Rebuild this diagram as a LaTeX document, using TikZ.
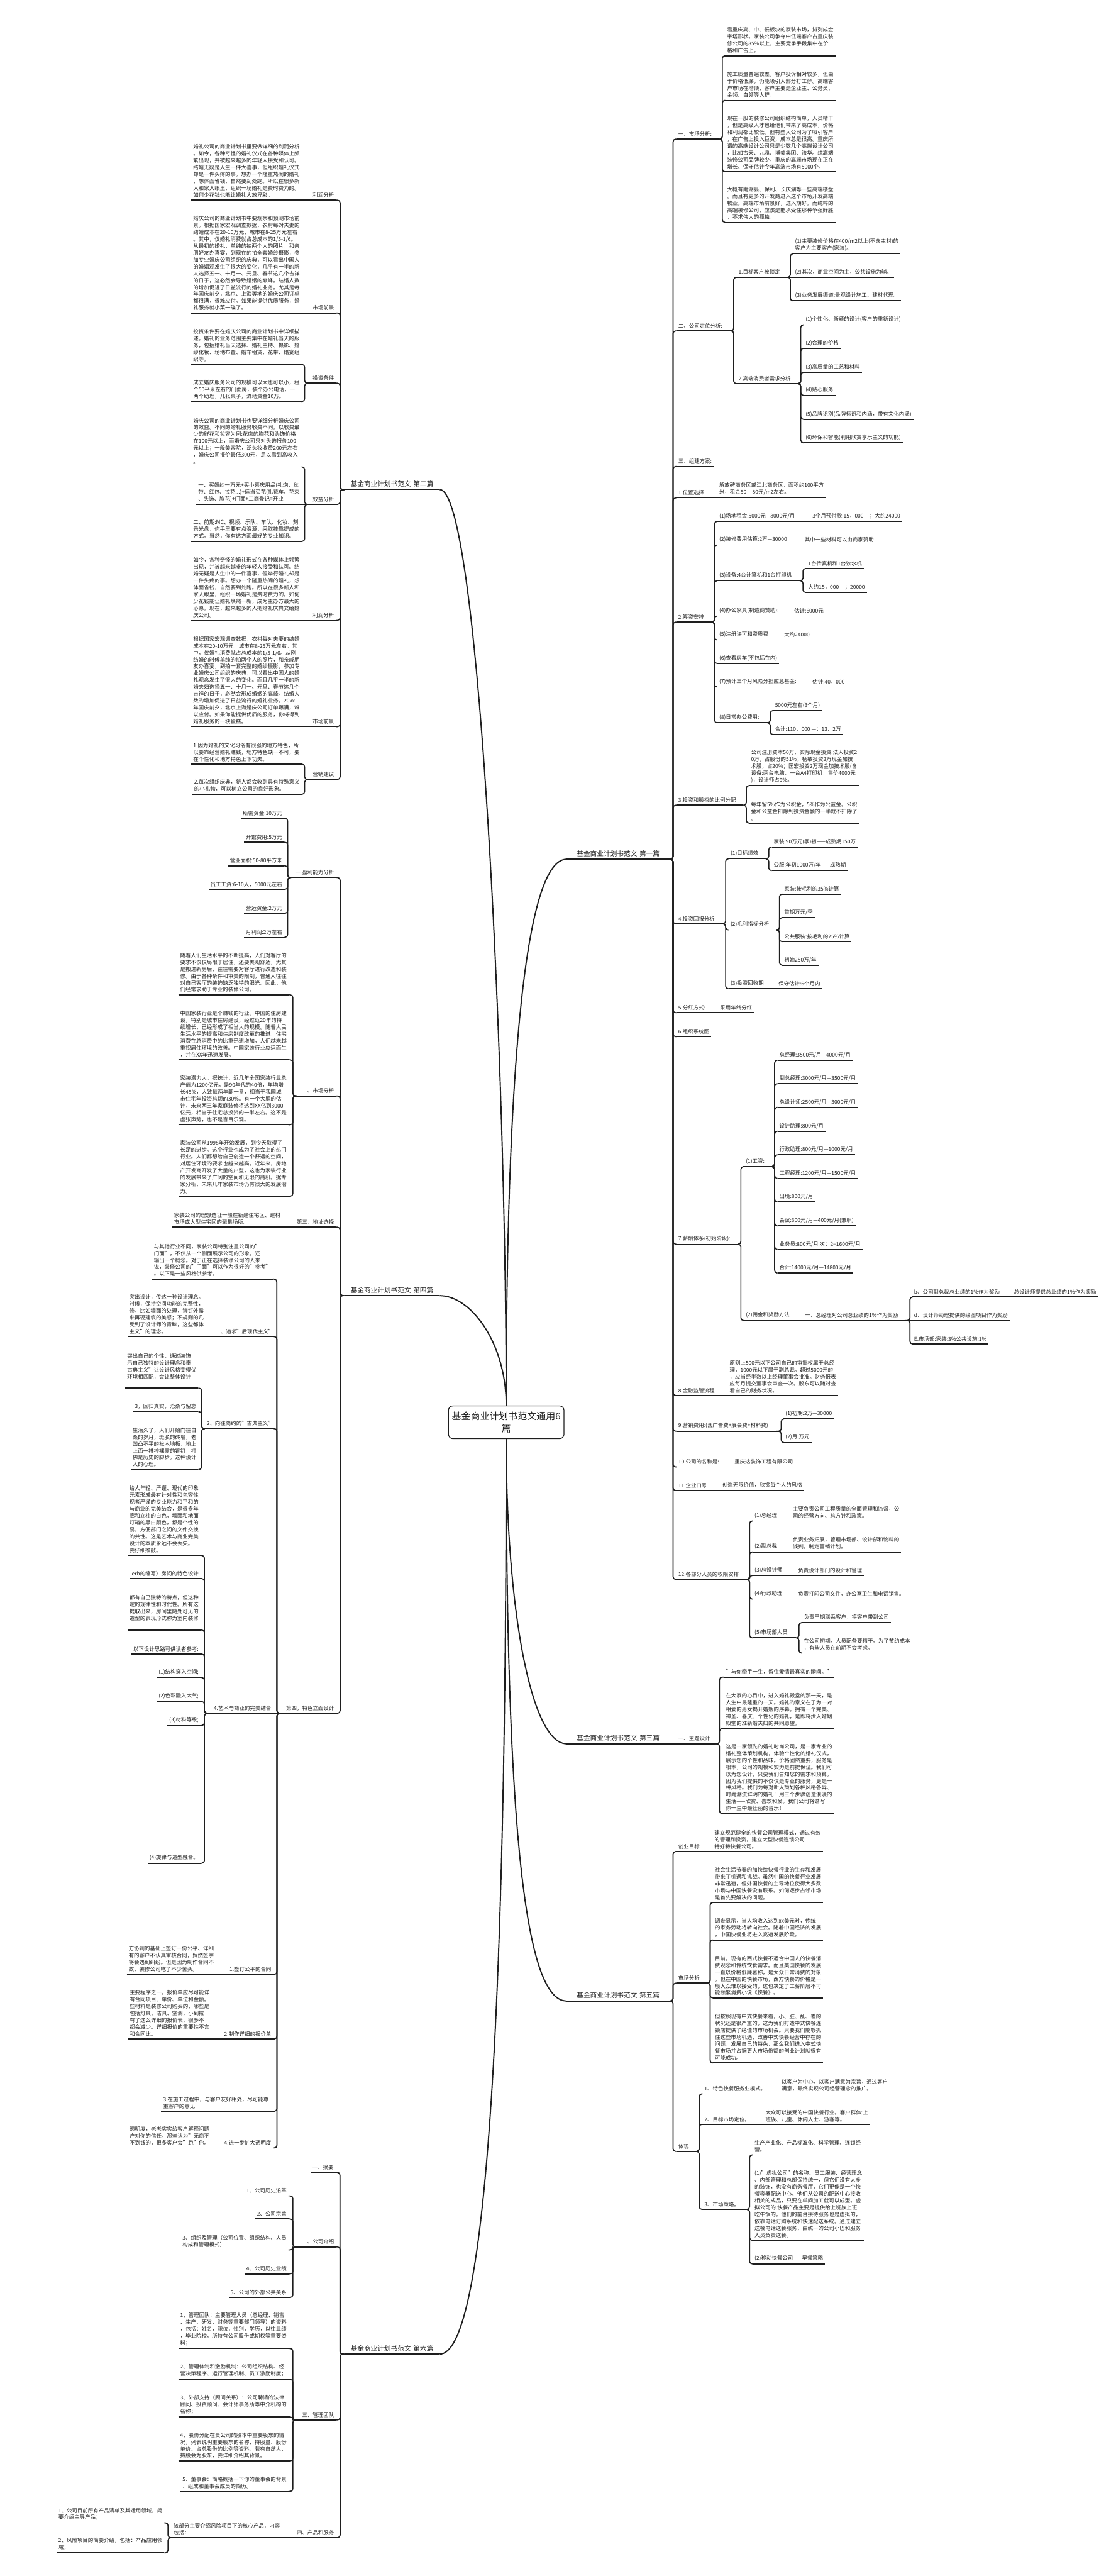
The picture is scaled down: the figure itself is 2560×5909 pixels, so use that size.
\documentclass[tikz,border=0pt]{standalone}
\usepackage{fontspec}
\setmainfont{Noto Sans CJK SC}
\usetikzlibrary{calc}
\definecolor{ink}{HTML}{1E1E1E}
\newcommand\fs{\fontsize{6.1pt}{7.9pt}\selectfont}
\newcommand\fb{\fontsize{7.7pt}{9.5pt}\selectfont}
\newcommand\fc{\fontsize{10.8pt}{14.2pt}\selectfont}
\tikzset{
  nd/.style={font=\fs,text=ink,inner xsep=2pt,inner ysep=2.8pt,anchor=south west,align=left},
  ulk/.style={draw=ink,line width=1.2pt},
  conn/.style={draw=ink,line width=1.2pt,rounded corners=3pt},
  mainc/.style={draw=ink,line width=1.4pt},
}
\newcommand\mkP[6][]{\pgfmathsetmacro\tw{(#4-#3)*0.5-4}\node[nd,text width=\tw pt,#1] (#2) at (#3,#5) {#6};\draw[ulk] (#2.south west)--(#2.south east);}
\newcommand\mkR[5][]{\node[nd,#1] (#2) at (#3,#4) {#5};\draw[ulk] (#2.south west)--(#2.south east);}
\newcommand\mkL[5][]{\node[nd,anchor=south east,align=right,#1] (#2) at (#3,#4) {#5};\draw[ulk] (#2.south west)--(#2.south east);}
\newcommand\cnR[2]{\draw[conn] let \p1=(#1.south east),\p2=(#2.south west) in (\p1)--({(\x1+\x2)/2},\y1)--({(\x1+\x2)/2},\y2)--(\p2);}
\newcommand\cnL[2]{\draw[conn] let \p1=(#1.south west),\p2=(#2.south east) in (\p1)--({(\x1+\x2)/2},\y1)--({(\x1+\x2)/2},\y2)--(\p2);}
\newcommand\stR[2]{\draw[ulk] (#1.south east)--(#2.south west);}
\newcommand\stL[2]{\draw[ulk] (#1.south west)--(#2.south east);}
\begin{document}
\begin{tikzpicture}[x=0.5pt,y=-0.5pt]
\useasboundingbox (0,0) rectangle (2560,5909);
\fill[white] (0,0) rectangle (2560,5909);
% ================= CENTER
\node[draw=ink,line width=0.9pt,rounded corners=5pt,minimum width=132.5pt,minimum height=37.5pt,font=\fc,text=ink,align=center,inner sep=2pt] (C) at (1161.5,3262.5) {基金商业计划书范文通用6\\篇};
% ================= RIGHT: 第一篇
\mkP[font=\fb,align=center]{B1}{1300}{1536}{1971}{基金商业计划书范文 第一篇}
\mkP{b1}{1552}{1650}{319}{一、市场分析:}
\mkR{b1a}{1664}{128}{看重庆高、中、低板块的家装市场，排列成金\\字塔形状。家装公司争夺中低端客户占重庆装\\修公司的85\%以上，主要竞争手段集中在价\\格和广告上。}
\mkR{b1b}{1664}{230}{施工质量普遍较差，客户投诉相对较多，但由\\于价格低廉，仍能吸引大部分打工仔。高端客\\户市场在塔顶，客户主要是企业主、公务员、\\金领、白领等人群。}
\mkR{b1c}{1664}{394}{现在一般的装修公司组织结构简单，人员精干\\，但是高级人才也给他们带来了高成本，价格\\和利润都比较低。但有些大公司为了吸引客户\\，在广告上投入巨资，成本总是很高。重庆所\\谓的高端设计公司只是少数几个高端设计公司\\，比如古天、九鼎、博美集团、法华。纯高端\\装修公司品牌较少。重庆的高端市场现在正在\\增长。保守估计今年高端市场有5000个。}
\mkR{b1d}{1664}{510}{大概有南湖县、保利、长庆湖等一些高端楼盘\\。而且有更多的开发商进入这个市场开发高端\\物业。高端市场前景好，进入期好。而纯粹的\\高端装修公司，应该是能承受住那种争强好胜\\，不求伟大的孤独。}
\mkP{b2}{1552}{1676}{759}{二、公司定位分析:}
\mkP{c1}{1690}{1806}{636}{1.目标客户被锁定}
\mkR{c1a}{1820}{582}{(1)主要装修价格在400/m2以上(不含主材)的\\客户为主要客户(家装)。}
\mkR{c1b}{1820}{636}{(2)其次，商业空间为主，公共设施为辅。}
\mkR{c1c}{1820}{690}{(3)业务发展渠道:景观设计施工、建材代理。}
\mkP{c2}{1690}{1830}{880}{2.高端消费者需求分析}
\mkR{c2a}{1844}{745}{(1)个性化、新颖的设计(客户的重新设计)}
\mkR{c2b}{1844}{799}{(2)合理的价格}
\mkR{c2c}{1844}{854}{(3)高质量的工艺和材料}
\mkR{c2d}{1844}{907}{(4)贴心服务}
\mkR{c2e}{1844}{962}{(5)品牌识别(品牌标识和内涵，带有文化内涵)}
\mkR{c2f}{1844}{1016}{(6)环保和智能(利用欣赏享乐主义的功能)}
\mkR{b3}{1552}{1070}{三、组建方案:}
\mkP{b4}{1552}{1636}{1142}{1.位置选择}
\mkR{b4a}{1646}{1142}{解放碑商务区或江北商务区，面积约100平方\\米，租金50 —80元/m2左右。}
\mkP{b5}{1552}{1632}{1427}{2.筹资安排}
\mkP{d1}{1646}{1848}{1196}{(1)场地租金:5000元—8000元/月}
\mkR{d1a}{1860}{1196}{3个月预付款:15，000 —；大约24000}
\mkP{d2}{1646}{1832}{1250}{(2)装修费用估算:2万—30000}
\mkR{d2a}{1842}{1250}{其中一些材料可以由商家赞助}
\mkP{d3}{1646}{1834}{1332}{(3)设备:4台计算机和1台打印机}
\mkR{d3a}{1850}{1304}{1台传真机和1台饮水机}
\mkR{d3b}{1850}{1359}{大约15，000 —；20000}
\mkP{d4}{1646}{1808}{1413}{(4)办公家具(制造商赞助):}
\mkR{d4a}{1818}{1413}{估计:6000元}
\mkP{d5}{1646}{1782}{1468}{(5)注册许可和资质费}
\mkR{d5a}{1795}{1468}{大约24000}
\mkR{d6}{1646}{1522}{(6)查看房车(不包括在内)}
\mkP{d7}{1646}{1848}{1576}{(7)预计三个月风险分担应急基金:}
\mkR{d7a}{1860}{1576}{估计:40，000}
\mkP{d8}{1646}{1760}{1658}{(8)日常办公费用:}
\mkR{d8a}{1774}{1630}{5000元左右(3个月)}
\mkR{d8b}{1774}{1685}{合计:110，000 —；13．2万}
\mkP{b6}{1552}{1705}{1847}{3.投资和股权的比例分配}
\mkR{b6a}{1719}{1802}{公司注册资本50万，实际现金投资:法人投资2\\0万，占股份的51\%；杨敏投资2万现金加技\\术股，占20\%；匡宏投资2万现金加技术股(含\\设备:两台电脑，一台A4打印机，售价4000元\\)，设计师占9\%。}
\mkR{b6b}{1719}{1888}{每年留5\%作为公积金，5\%作为公益金。公积\\金和公益金扣除到投资金额的一半就不扣除了\\。}
\mkP{b7}{1552}{1657}{2119}{4.投资回报分析}
\mkP{e1}{1672}{1756}{1970}{(1)目标绩效}
\mkR{e1a}{1771}{1943}{家装:90万元(季)初——成熟期150万}
\mkR{e1b}{1771}{1997}{公服:年初1000万/年——成熟期}
\mkP{e2}{1672}{1781}{2133}{(2)毛利指标分析}
\mkR{e2a}{1795}{2051}{家装:按毛利的35\%计算}
\mkR{e2b}{1795}{2105}{首期万元/季}
\mkR{e2c}{1795}{2160}{公共服装:按毛利的25\%计算}
\mkR{e2d}{1795}{2214}{初始250万/年}
\mkP{e3}{1672}{1770}{2268}{(3)投资回收期}
\mkR{e3a}{1782}{2268}{保守估计:6个月内}
\mkP{b8}{1552}{1638}{2323}{5.分红方式:}
\mkR{b8a}{1648}{2323}{采用年终分红}
\mkR{b9}{1552}{2378}{6.组织系统图}
\mkP{b10}{1552}{1692}{2854}{7.薪酬体系(初始阶段):}
\mkP{f1}{1707}{1770}{2676}{(1)工资:}
\mkR{f1a}{1784}{2432}{总经理:3500元/月—4000元/月}
\mkR{f1b}{1784}{2486}{副总经理:3000元/月—3500元/月}
\mkR{f1c}{1784}{2540}{总设计师:2500元/月—3000元/月}
\mkR{f1d}{1784}{2595}{设计助理:800元/月}
\mkR{f1e}{1784}{2649}{行政助理:800元/月—1000元/月}
\mkR{f1f}{1784}{2703}{工程经理:1200元/月—1500元/月}
\mkR{f1g}{1784}{2757}{出境:800元/月}
\mkR{f1h}{1784}{2812}{会议:300元/月—400元/月(兼职)}
\mkR{f1i}{1784}{2866}{业务员:800元/月 次；2=1600元/月}
\mkR{f1j}{1784}{2920}{合计:14000元/月—14800元/月}
\mkP{f2}{1707}{1837}{3029}{(2)佣金和奖励方法}
\mkP{f2a}{1843}{2082}{3029}{一、总经理对公司总业绩的1\%作为奖励}
\mkP{fb}{2093}{2310}{2975}{b、公司副总裁总业绩的1\%作为奖励}
\mkR{fc}{2322}{2975}{总设计师提供总业绩的1\%作为奖励}
\mkR{fd}{2093}{3029}{d、设计师助理提供的绘图项目作为奖励}
\mkR{fE}{2093}{3083}{E.市场部:家装:3\%公共设施:1\%}
\mkP{b11}{1552}{1662}{3201}{8.金融监管流程}
\mkR{b11a}{1670}{3201}{原则上500元以下公司自己的审批权属于总经\\理，1000元以下属于副总裁。超过5000元的\\，应当经半数以上经理董事会批准。财务报表\\应每月提交董事会审查一次。股东可以随时查\\看自己的财务状况。}
\mkP{b12}{1552}{1786}{3283}{9.营销费用:(含广告费+展会费+材料费)}
\mkR{b12a}{1798}{3255}{(1)初期:2万—30000}
\mkR{b12b}{1798}{3309}{(2)月:万元}
\mkP{b13}{1552}{1668}{3365}{10.公司的名称是:}
\mkR{b13a}{1681}{3365}{重庆达装饰工程有限公司}
\mkP{b14}{1552}{1642}{3419}{11.企业口号}
\mkR{b14a}{1653}{3419}{创造无限价值，欣赏每个人的风格}
\mkP{b15}{1552}{1712}{3623}{12.各部分人员的权限安排}
\mkP{g1}{1727}{1808}{3489}{(1)总经理}
\mkR{g1a}{1815}{3489}{主要负责公司工程质量的全面管理和监督，公\\司的经营方向、总方针和政策。}
\mkP{g2}{1727}{1808}{3560}{(2)副总裁}
\mkR{g2a}{1815}{3560}{负责业务拓展，管理市场部、设计部和物料的\\谈判，制定营销计划。}
\mkP{g3}{1727}{1822}{3614}{(3)总设计师}
\mkR{g3a}{1827}{3614}{负责设计部门的设计和管理}
\mkP{g4}{1727}{1822}{3668}{(4)行政助理}
\mkR{g4a}{1827}{3668}{负责打印公司文件，办公室卫生和电话销售。}
\mkP{g5}{1727}{1826}{3757}{(5)市场部人员}
\mkR{g5a}{1840}{3722}{负责早期联系客户，将客户带到公司}
\mkR{g5b}{1840}{3792}{在公司初期，人员配备要精干。为了节约成本\\，有些人员在前期不会考虑。}
% connectors 第一篇
\foreach \c in {b1,b2,b3,b4,b5,b6,b7,b8,b9,b10,b11,b12,b13,b14,b15}{\cnR{B1}{\c}}
\foreach \c in {b1a,b1b,b1c,b1d}{\cnR{b1}{\c}}
\cnR{b2}{c1}\cnR{b2}{c2}
\cnR{c1}{c1a}\stR{c1}{c1b}\cnR{c1}{c1c}
\foreach \c in {c2a,c2b,c2c,c2d,c2e,c2f}{\cnR{c2}{\c}}
\stR{b4}{b4a}
\foreach \c in {d1,d2,d3,d4,d5,d6,d7,d8}{\cnR{b5}{\c}}
\stR{d1}{d1a}\stR{d2}{d2a}\cnR{d3}{d3a}\cnR{d3}{d3b}\stR{d4}{d4a}\stR{d5}{d5a}\stR{d7}{d7a}\cnR{d8}{d8a}\cnR{d8}{d8b}
\cnR{b6}{b6a}\cnR{b6}{b6b}
\cnR{b7}{e1}\cnR{b7}{e2}\cnR{b7}{e3}
\cnR{e1}{e1a}\cnR{e1}{e1b}
\foreach \c in {e2a,e2b,e2c,e2d}{\cnR{e2}{\c}}
\stR{e3}{e3a}\stR{b8}{b8a}
\cnR{b10}{f1}\cnR{b10}{f2}
\foreach \c in {f1a,f1b,f1c,f1d,f1e,f1f,f1g,f1h,f1i,f1j}{\cnR{f1}{\c}}
\stR{f2}{f2a}\cnR{f2a}{fb}\stR{f2a}{fd}\cnR{f2a}{fE}\stR{fb}{fc}
\stR{b11}{b11a}\cnR{b12}{b12a}\cnR{b12}{b12b}\stR{b13}{b13a}\stR{b14}{b14a}
\foreach \c in {g1,g2,g3,g4,g5}{\cnR{b15}{\c}}
\stR{g1}{g1a}\stR{g2}{g2a}\stR{g3}{g3a}\stR{g4}{g4a}\cnR{g5}{g5a}\cnR{g5}{g5b}
% ================= RIGHT: 第三篇
\mkP[font=\fb,align=center]{B3}{1300}{1536}{4000}{基金商业计划书范文 第三篇}
\mkP{t1}{1552}{1640}{4000}{一、主题设计}
\mkR{t1a}{1661}{3847}{"与你牵手一生，留住爱情最真实的瞬间。"}
\mkR{t1b}{1661}{3965}{在大家的心目中，进入婚礼殿堂的那一天，是\\人生中最隆重的一天。婚礼的意义在于为一对\\相爱的男女揭开婚姻的序幕。拥有一个完美、\\神圣、喜庆、个性化的婚礼，是即将步入婚姻\\殿堂的准新婚夫妇的共同愿望。}
\mkR{t1c}{1661}{4160}{这是一家领先的婚礼时尚公司，是一家专业的\\婚礼整体策划机构，体验个性化的婚礼仪式，\\展示您的个性和品味。价格固然重要，服务是\\根本，公司的规模和实力是前提保证。我们可\\以为您设计，只要我们告知您的需求和预算。\\因为我们提供的不仅仅是专业的服务，更是一\\种风格。我们为每对新人策划各种风格各异、\\时尚潮流鲜明的婚礼！用三个步骤创造浪漫的\\生活——欣赏、喜欢和爱。我们公司将谱写\\你一生中最壮丽的音乐！}
\stR{B3}{t1}\cnR{t1}{t1a}\cnR{t1}{t1b}\cnR{t1}{t1c}
% ================= RIGHT: 第五篇
\mkP[font=\fb,align=center]{B5}{1300}{1536}{4590}{基金商业计划书范文 第五篇}
\mkP{h1}{1552}{1622}{4247}{创业目标}
\mkR{h1a}{1635}{4247}{建立规范健全的快餐公司管理模式，通过有效\\的管理和投资，建立大型快餐连锁公司——\\特好特快餐公司。}
\mkP{h2}{1552}{1622}{4549}{市场分析}
\mkR{h2a}{1636}{4364}{社会生活节奏的加快给快餐行业的生存和发展\\带来了机遇和挑战。虽然中国的快餐行业发展\\非常迅速，但外国快餐的主导地位使得大多数\\市场与中国快餐没有联系。如何逐步占领市场\\是首先要解决的问题。}
\mkR{h2b}{1636}{4450}{调查显示，当人均收入达到xx美元时，传统\\的家务劳动将转向社会。随着中国经济的发展\\，中国快餐业将进入高速发展阶段。}
\mkR{h2c}{1636}{4583}{目前，现有的西式快餐不适合中国人的快餐消\\费观念和传统饮食需求。而且美国快餐的发展\\一直以价格低廉著称，是大众日常消费的对象\\。但在中国的快餐市场，西方快餐的价格是一\\般大众难以接受的，这也决定了工薪阶层不可\\能频繁消费小说《快餐》。}
\mkR{h2d}{1636}{4732}{但按照现有中式快餐来看，小、脏、乱、差的\\状况还是很严重的，这为我们打造中式快餐连\\锁店提供了绝佳的市场机会。只要我们能够抓\\住这些市场机遇，改善中式快餐经营中存在的\\问题，发展自己的特色，那么我们进入中式快\\餐市场并占据更大市场份额的创业计划就很有\\可能成功。}
\mkP{h3}{1552}{1596}{4935}{体现}
\mkP{i1}{1612}{1768}{4803}{1、特色快餐服务业模式。}
\mkR{i1a}{1789}{4803}{以客户为中心，以客户满意为宗旨，通过客户\\满意，最终实现公司经营理念的推广。}
\mkP{i2}{1612}{1738}{4873}{2、目标市场定位。}
\mkR{i2a}{1752}{4873}{大众可以接受的中国快餐行业。客户群体:上\\班族、儿童、休闲人士、游客等。}
\mkP{i3}{1612}{1712}{5068}{3、市场策略。}
\mkR{i3a}{1727}{4943}{生产产业化、产品标准化、科学管理、连锁经\\营。}
\mkR{i3b}{1727}{5139}{(1)"虚拟公司"的名称、员工服装、经营理念\\、内部管理和总部保持统一，但它们没有太多\\的装饰，也没有商务餐厅，它们更像是一个快\\餐容器配送中心。他们从公司的配送中心接收\\相关的成品，只要在单间加工就可以成型。虚\\拟公司的.快餐产品主要是提供给上班族上班\\吃午饭的。他们的前台接待服务也是虚拟的，\\依靠电话订购系统和快速配送系统。通过建立\\送餐电话送餐服务，由统一的公司小巴和服务\\人员负责送餐。}
\mkR{i3c}{1727}{5193}{(2)移动快餐公司——早餐策略}
\cnR{B5}{h1}\cnR{B5}{h2}\cnR{B5}{h3}\stR{h1}{h1a}
\foreach \c in {h2a,h2b,h2c,h2d}{\cnR{h2}{\c}}
\cnR{h3}{i1}\cnR{h3}{i2}\cnR{h3}{i3}\stR{i1}{i1a}\stR{i2}{i2a}
\cnR{i3}{i3a}\cnR{i3}{i3b}\cnR{i3}{i3c}
% ================= LEFT: 第二篇
\mkP[font=\fb,align=center]{B2}{790}{1008}{1123}{基金商业计划书范文 第二篇}
\mkP[align=right]{L1}{706}{770}{459}{利润分析}
\mkL[align=left]{L1a}{692}{459}{婚礼公司的商业计划书里要做详细的利润分析\\。如今，各种奇怪的婚礼仪式在各种媒体上频\\繁出现，并被越来越多的年轻人接受和认可。\\结婚无疑是人生一件大喜事，但组织婚礼仪式\\却是一件头疼的事。想办一个隆重热闹的婚礼\\，想体面省钱，自然要到处跑。所以在很多新\\人和家人眼里，组织一场婚礼是费时费力的。\\如何少花钱也能让婚礼大放异彩。}
\mkP[align=right]{L2}{706}{770}{718}{市场前景}
\mkL[align=left]{L2a}{692}{718}{婚庆公司的商业计划书中要观察和预测市场前\\景。根据国家宏观调查数据，农村每对夫妻的\\结婚成本在20-10万元，城市在8-25万元左右\\。其中，仅婚礼消费就占总成本的1/5-1/6。\\从最初的婚礼，单纯的拍两个人的照片，和亲\\朋好友办喜宴，到现在的拍全套婚纱摄影，参\\加专业婚庆公司组织的庆典，可以看出中国人\\的婚姻观发生了很大的变化，几乎有一半的新\\人选择五一、十月一、元旦、春节这几个吉祥\\的日子，这必然会导致婚姻的巅峰。结婚人数\\的增加促进了日益流行的婚礼业务。尤其是每\\年国庆前夕，北京、上海等地的婚庆公司订单\\都很满，很难应付。如果能提供优质服务，婚\\礼服务就小菜一碟了。}
\mkP[align=right]{L3}{706}{770}{879}{投资条件}
\mkL[align=left]{L3a}{692}{836}{投资条件要在婚庆公司的商业计划书中详细描\\述。婚礼的业务范围主要集中在婚礼当天的服\\务，包括婚礼当天选择、婚礼主持、摄影、婚\\纱化妆、场地布置、婚车租赁、花带、婚宴组\\织等。}
\mkL[align=left]{L3b}{692}{921}{成立婚庆服务公司的规模可以大也可以小，租\\个50平米左右的门面房，装个办公电话，一\\两个助理，几张桌子，流动资金10万。}
\mkP[align=right]{L4}{706}{770}{1157}{效益分析}
\mkL[align=left]{L4a}{692}{1071}{婚庆公司的商业计划书也要详细分析婚庆公司\\的效益。不同的婚礼服务收费不同。以收费最\\少的鲜花和妆容为例:花店的胸花和头饰价格\\在100元以上，而婚庆公司只对头饰报价100\\元以上；一般美容院，泛头妆收费200元左右\\，婚庆公司报价最低300元，足以看到高收入\\。}
\mkL[align=left]{L4b}{692}{1157}{一、买婚纱一万元+买小喜庆用品(礼炮、丝\\带、红包、拉花...)+适当买花(扎花车、花束\\、头饰、胸花)+门面+工商登记=开业}
\mkL[align=left]{L4c}{692}{1242}{二、前期:MC、视频、乐队、车队、化妆、刻\\录光盘，你手里要有点资源，采取挂靠提成的\\方式。当然，你有这方面最好的专业知识。}
\mkP[align=right]{L5}{706}{770}{1423}{利润分析}
\mkL[align=left]{L5a}{692}{1423}{如今，各种奇怪的婚礼形式在各种媒体上频繁\\出现，并被越来越多的年轻人接受和认可。结\\婚无疑是人生中的一件喜事，但举行婚礼却是\\一件头疼的事。想办一个隆重热闹的婚礼，想\\体面省钱，自然要到处跑。所以在很多新人和\\家人眼里，组织一场婚礼是费时费力的。如何\\少花钱能让婚礼焕然一新，成为主办方最大的\\心愿。现在，越来越多的人把婚礼庆典交给婚\\庆公司。}
\mkP[align=right]{L6}{706}{770}{1667}{市场前景}
\mkL[align=left]{L6a}{692}{1667}{根据国家宏观调查数据，农村每对夫妻的结婚\\成本在20-10万元，城市在8-25万元左右。其\\中，仅婚礼消费就占总成本的1/5-1/6。从刚\\结婚的时候单纯的拍两个人的照片，和亲戚朋\\友办喜宴，到拍一套完整的婚纱摄影，参加专\\业婚庆公司组织的庆典，可以看出中国人的婚\\礼观念发生了很大的变化。而且几乎一半的新\\婚夫妇选择五一、十月一、元旦、春节这几个\\吉祥的日子，必然会形成婚姻的高峰。结婚人\\数的增加促进了日益流行的婚礼业务。20xx\\年国庆前夕，北京上海婚庆公司订单爆满，难\\以应付。如果你能提供优质的服务，你将得到\\婚礼服务的一块蛋糕。}
\mkP[align=right]{L7}{706}{770}{1788}{营销建议}
\mkL[align=left]{L7a}{692}{1753}{1.因为婚礼的文化习俗有很强的地方特色，所\\以要靠经营婚礼赚钱，地方特色缺一不可，要\\在个性化和地方特色上下功夫。}
\mkL[align=left]{L7b}{692}{1822}{2.每次组织庆典，新人都会收到具有特殊意义\\的小礼物，可以树立公司的良好形象。}
\foreach \c in {L1,L2,L3,L4,L5,L6,L7}{\cnL{B2}{\c}}
\stL{L1}{L1a}\stL{L2}{L2a}\cnL{L3}{L3a}\cnL{L3}{L3b}
\cnL{L4}{L4a}\stL{L4}{L4b}\cnL{L4}{L4c}
\stL{L5}{L5a}\stL{L6}{L6a}\cnL{L7}{L7a}\cnL{L7}{L7b}
% ================= LEFT: 第四篇
\mkP[font=\fb,align=center]{B4}{790}{1008}{2972}{基金商业计划书范文 第四篇}
\mkP[align=right]{F1}{668}{770}{2013}{一.盈利能力分析}
\mkL{F1a}{652}{1877}{所需资金:10万元}
\mkL{F1b}{652}{1932}{开馆费用:5万元}
\mkL{F1c}{652}{1986}{营业面积:50-80平方米}
\mkL{F1d}{652}{2040}{员工工资:6-10人，5000元左右}
\mkL{F1e}{652}{2095}{营运资金:2万元}
\mkL{F1f}{652}{2150}{月利润:2万左右}
\mkP[align=right]{F2}{682}{770}{2514}{二、市场分析}
\mkL[align=left]{F2a}{662}{2282}{随着人们生活水平的不断提高，人们对客厅的\\要求不仅仅局限于居住，还要美观舒适，尤其\\是搬进新房后，往往需要对客厅进行改造和装\\修。由于各种条件和审美的限制，普通人往往\\对自己客厅的装饰缺乏独特的眼光。因此，他\\们经常求助于专业的装修公司。}
\mkL[align=left]{F2b}{662}{2431}{中国家装行业是个赚钱的行业。中国的住房建\\设，特别是城市住房建设，经过近20年的持\\续增长，已经形成了相当大的规模。随着人民\\生活水平的提高和住房制度改革的推进，住宅\\消费在总消费中的比重迅速增加，人们越来越\\重视居住环境的改善。中国家装行业应运而生\\，并在XX年迅速发展。}
\mkL[align=left]{F2c}{662}{2580}{家装潜力大。据统计，近几年全国家装行业总\\产值为1200亿元，是90年代的40倍，年均增\\长45\%，大致每两年翻一番，相当于我国城\\市住宅年投资总额的30\%。有一个大胆的估\\计，未来两三年家庭装修将达到XX亿到3000\\亿元，相当于住宅总投资的一半左右。这不是\\虚张声势，也不是盲目乐观。}
\mkL[align=left]{F2d}{662}{2744}{家装公司从1998年开始发展，到今天取得了\\长足的进步。这个行业也成为了社会上的热门\\行业。人们都想给自己创造一个舒适的空间，\\对居住环境的要求也越来越高。近年来，房地\\产开发商开发了大量的户型，这也为家装行业\\的发展带来了广阔的空间和无限的商机。据专\\家分析，未来几年家装市场仍有很大的发展潜\\力。}
\mkP[align=right]{F3}{656}{770}{2815}{第三，地址选择}
\mkL[align=left]{F3a}{648}{2815}{家装公司的理想选址一般在新建住宅区、建材\\市场或大型住宅区的聚集场所。}
\mkP[align=right]{F4}{644}{770}{3930}{第四，特色立面设计}
\mkL[align=left]{F4a}{626}{2934}{与其他行业不同，家装公司特别注重公司的"\\门面"，不仅从一个侧面展示公司的形象，还\\输出一个概念。对于正在选择装修公司的人来\\说，装修公司的"门面"可以作为很好的"参考"\\。以下是一些风格供参考。}
\mkP[align=right]{F4b}{495}{626}{3066}{1、追求"后现代主义"}
\mkL[align=left]{F4b1}{472}{3066}{突出设计，传达一种设计理念。\\时候，保持空间功能的完整性，\\修。比如墙面的处理，铆钉外露\\来再现建筑的美感；不规则的几\\受到了设计师的青睐，这些都体\\主义"的理念。}
\mkP[align=right]{F4c}{470}{626}{3277}{2、向往简约的"古典主义"}
\mkL[align=left]{F4c1}{455}{3184}{突出自己的个性，通过装饰\\示自己独特的设计理念和奉\\古典主义"让设计风格变得优\\环境相匹配，会让整体设计\\\mbox{}}
\mkL{F4c2}{455}{3238}{3，回归真实，沧桑与留恋}
\mkL[align=left]{F4c3}{455}{3371}{生活久了，人们开始向往自\\桑的岁月，斑驳的砖墙，老\\凹凸不平的松木地板，地上\\上面一排排裸露的铆钉，打\\佛是历史的脚步。这种设计\\人的心理。}
\mkP[align=right]{F4d}{478}{626}{3930}{4.艺术与商业的完美结合}
\mkL[align=left]{F4d1}{460}{3568}{给人年轻、严谨、现代的印象\\元素形成最有针对性和包容性\\现者严谨的专业能力和平和的\\与商业的完美结合，是很多年\\廊和立柱的白色，墙面和地面\\灯箱的黑白颜色，都是个性的\\易，方便部门之间的文件交换\\的共性。这是艺术与商业完美\\设计的本质永远不会丢失。\\要仔细推敲。}
\mkL{F4d2}{460}{3621}{erb的缩写）房间的特色设计}
\mkL[align=left]{F4d3}{460}{3739}{都有自己独特的特点，但这种\\定的规律性和时代性。所有这\\提取出来，房间里随处可见的\\造型的表现形式称为室内装修\\\mbox{}}
\mkL{F4d4}{460}{3794}{以下设计思路可供读者参考:}
\mkL{F4d5}{460}{3848}{(1)结构穿入空间;}
\mkL{F4d6}{460}{3903}{(2)色彩融入大气;}
\mkL{F4d7}{460}{3958}{(3)材料等级;}
\mkL{F4d8}{460}{4274}{(4)旋律与造型融合。}
\mkP[align=right]{F4e}{515}{626}{4529}{1.签订公平的合同}
\mkL[align=left]{F4e1}{495}{4529}{方协调的基础上签订一份公平、详细\\有的客户不认真审核合同，贸然签字\\将会遇到纠纷。但是因为制作合同不\\故，装修公司吃了不少苦头。}
\mkP[align=right]{F4f}{505}{626}{4677}{2.制作详细的报价单}
\mkL[align=left]{F4f1}{485}{4677}{主要程序之一。报价单应尽可能详\\有合同项目、单价、单位和金额。\\些材料是装修公司购买的，哪些是\\包括灯具、洁具、空调，小到拉\\有了这么详细的报价表，很多不\\都会减少。详细报价的重要性不言\\和合同比。}
\mkP{F4g}{370}{626}{4843}{3.在施工过程中，与客户友好相处，尽可能尊\\重客户的意见}
\mkP[align=right]{F4h}{505}{626}{4927}{4.进一步扩大透明度}
\mkL[align=left]{F4h1}{485}{4927}{透明度，老老实实给客户解释问题\\户对你的信任。那些认为"无商不\\不到钱的，很多客户会"跑"你。}
\foreach \c in {F1,F2,F3,F4}{\cnL{B4}{\c}}
\foreach \c in {F1a,F1b,F1c,F1d,F1e,F1f}{\cnL{F1}{\c}}
\foreach \c in {F2a,F2b,F2c,F2d}{\cnL{F2}{\c}}
\stL{F3}{F3a}
\foreach \c in {F4a,F4b,F4c,F4e,F4f,F4g,F4h}{\cnL{F4}{\c}}
\stL{F4}{F4d}
\stL{F4b}{F4b1}
\cnL{F4c}{F4c1}\cnL{F4c}{F4c2}\cnL{F4c}{F4c3}
\foreach \c in {F4d1,F4d2,F4d3,F4d4,F4d5,F4d6,F4d7,F4d8}{\cnL{F4d}{\c}}
\stL{F4e}{F4e1}\stL{F4f}{F4f1}\stL{F4h}{F4h1}
% ================= LEFT: 第六篇
\mkP[font=\fb,align=center]{B6}{790}{1008}{5400}{基金商业计划书范文 第六篇}
\mkL{M1}{770}{4983}{一、摘要}
\mkP[align=right]{M2}{682}{770}{5154}{二、公司介绍}
\mkL{M2a}{662}{5037}{1、公司历史沿革}
\mkL{M2b}{662}{5090}{2、公司宗旨}
\mkL[align=left]{M2c}{662}{5161}{3、组织及管理（公司位置、组织结构、人员\\构成和管理模式）}
\mkL{M2d}{662}{5216}{4、公司历史业绩}
\mkL{M2e}{662}{5270}{5、公司的外部公共关系}
\mkP[align=right]{M3}{682}{770}{5551}{三、管理团队}
\mkL[align=left]{M3a}{662}{5387}{1、管理团队：主要管理人员（总经理、销售\\、生产、研发、财务等重要部门领导）的资料\\，包括：姓名，职位，性别，学历，以往业绩\\，毕业院校，所持有公司股份或期权等重要资\\料；}
\mkL[align=left]{M3b}{662}{5458}{2、管理体制和激励机制：公司组织结构、经\\营决策程序、运行管理机制、员工激励制度；}
\mkL[align=left]{M3c}{662}{5544}{3、外部支持（顾问关系）：公司聘请的法律\\顾问、投资顾问、会计师事务所等中介机构的\\名称；}
\mkL[align=left]{M3d}{662}{5645}{4、股份分配在贵公司的股本中重要股东的情\\况，列表说明重要股东的名称、持股量、股份\\单价、占总股份的比例等资料。若有自然人、\\持股会为股东，要详细介绍其背景。}
\mkL[align=left]{M3e}{662}{5715}{5、董事会：简略概括一下你的董事会的背景\\、组成和董事会成员的简历。}
\mkP[align=right]{M4}{672}{770}{5821}{四、产品和服务}
\mkP{M4a}{394}{660}{5821}{该部分主要介绍风险项目下的核心产品，内容\\包括：}
\mkL[align=left]{M4a1}{377}{5787}{1、公司目前所有产品清单及其适用领域，简\\要介绍主导产品；}
\mkL[align=left]{M4a2}{377}{5856}{2、风险项目的简要介绍，包括：产品应用领\\域；}
\foreach \c in {M1,M2,M3,M4}{\cnL{B6}{\c}}
\foreach \c in {M2a,M2b,M2c,M2d,M2e}{\cnL{M2}{\c}}
\foreach \c in {M3a,M3b,M3c,M3d,M3e}{\cnL{M3}{\c}}
\stL{M4}{M4a}\cnL{M4a}{M4a1}\cnL{M4a}{M4a2}
% ================= MAIN CONNECTORS
\draw[mainc] (C.north) .. controls (1161.5,2500) and (1200,1971) .. (B1.south west);
\draw[mainc] (C.north) .. controls (1161.5,2450) and (1100,1123) .. (B2.south east);
\draw[mainc] (C.north) .. controls (1161.5,3080) and (1080,2972) .. (B4.south east);
\draw[mainc] (C.south) .. controls (1161.5,3700) and (1220,4000) .. (B3.south west);
\draw[mainc] (C.south) .. controls (1161.5,4150) and (1200,4590) .. (B5.south west);
\draw[mainc] (C.south) .. controls (1161.5,4700) and (1110,5400) .. (B6.south east);
\end{tikzpicture}
\end{document}
